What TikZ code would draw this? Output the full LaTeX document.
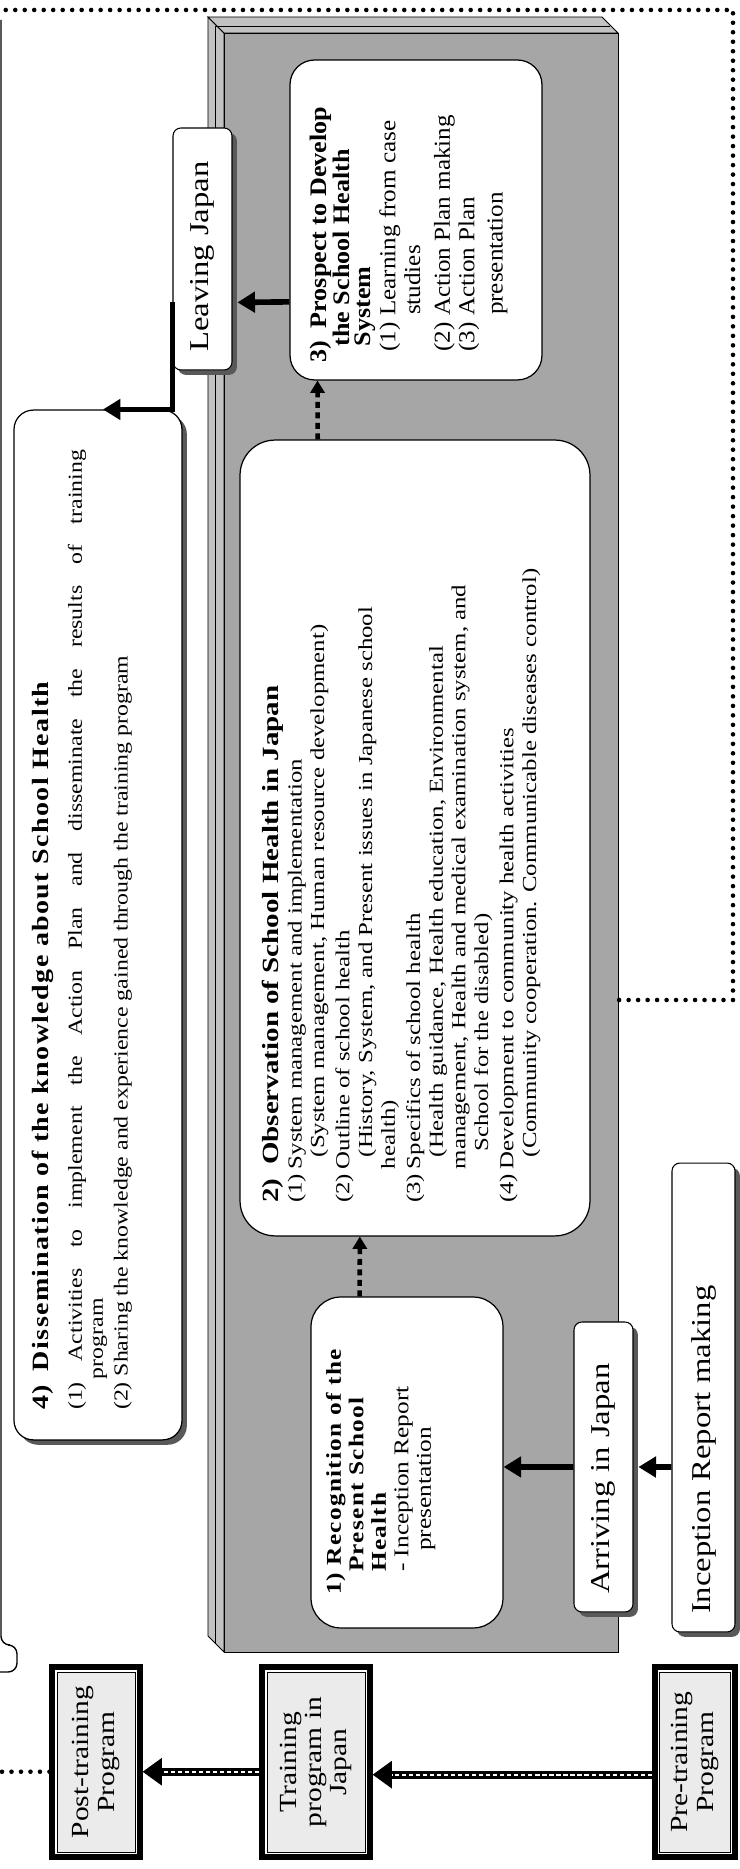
\documentclass[tikz,border=0pt]{standalone}
\usepackage{fontspec}
\setmainfont{Liberation Serif}
\newfontfamily\widefont{Liberation Serif}[FakeStretch=1.2]
\newfontfamily\widespaced{Liberation Serif}[FakeStretch=1.2,LetterSpace=6]
\newfontfamily\timesfont{Liberation Serif}[FakeStretch=1.1]
\newfontfamily\timeswide{Liberation Serif}[FakeStretch=1.25]
\usetikzlibrary{arrows.meta,calc,shadows}

\begin{document}
\begin{tikzpicture}

			\tikzstyle{prog}=[fill=black!8,draw=black,line width=0.5pt,
				preaction={draw=black,line width=8.6pt},
				preaction={draw=white,line width=1.8pt},
				outer sep=4.3pt,inner sep=0pt,minimum width=3.6cm,
				align=center,font=\widefont\fontsize{14}{14.5}\selectfont]
			\tikzstyle{place}=[fill=white,draw=black,line width=0.6pt,
				rounded corners=4.5pt,
				drop shadow={shadow xshift=2.8pt,shadow yshift=-2.8pt,fill=black!65,opacity=1},
				inner xsep=0.36cm,align=left,
				font=\widefont\fontsize{15.5}{17}\selectfont]
			\tikzstyle{stage}=[fill=white,draw=black,line width=0.7pt]
			\tikzstyle{slabface}=[fill=black!35,draw=black,line width=0.5pt]
			\tikzstyle{bevel}=[fill=black!24,draw=black,line width=0.5pt]
			\tikzstyle{stripe}=[line width=4.6pt,-{Triangle[length=11pt,width=15pt]},
				postaction={draw=white,-,line width=1.3pt,
				dash pattern=on 2.4pt off 1.6pt,shorten >=11pt}]
			\tikzstyle{solidarrow}=[line width=3.2pt,-{Triangle[length=10pt,width=11.5pt]}]
			\tikzstyle{dasharrow}=[line width=2.6pt,dash pattern=on 3.4pt off 2.6pt,
				-{Triangle[length=7pt,width=8pt]}]
			\tikzstyle{dotframe}=[line width=2.6pt,line cap=round,dash pattern=on 0pt off 5.4pt]

			\begin{scope}[rotate=90,transform shape,x=0.02cm,y=0.02cm]
			\path[use as bounding box] (0,0) rectangle (1869,740);

			\draw[slabface] (217,122) rectangle (1836,516);
			\draw[bevel] (217,516) -- (233,532) -- (1852,532) -- (1836,516) -- cycle;
			\draw[bevel] (1836,516) -- (1852,532) -- (1852,138) -- (1836,122) -- cycle;
			\draw[line width=0.4pt] (226,525) -- (1843,525) -- (1843,130);

			\node[prog,minimum height=1.56cm]	(post)	at (107,644)	{Post-training\\Program};
			\node[prog,minimum height=1.96cm]	(train)	at (107,424)	{Training\\program in\\Japan};
			\node[prog,minimum height=1.42cm]	(pre)	at (107,45)	{Pre-training\\Program};

			\node[place,text width=4.12cm,minimum height=1.18cm]	(leave)	at (1620,537.5)	{Leaving Japan};
			\node[place,text width=5.08cm,minimum height=1.18cm]	(arrive)	at (402,136.5)	{Arriving in Japan};
			\node[place,text width=8.66cm,minimum height=1.26cm]	(incep)	at (471.5,36.5)	{Inception Report making};

			\node[stage,rounded corners=17pt,inner xsep=0.66cm,inner ysep=0.3cm]	(rec)	at (406.5,333)
				{\parbox[t][3.24cm][t]{5.3cm}{\raggedright\fontsize{12}{12.8}\selectfont
				\widespaced\bfseries 1) Recognition of the\\
				\hspace*{1.1em}Present School\\
				\hspace*{1.1em}Health\\
				\widefont\mdseries\hspace*{1.1em}- Inception Report\\
				\hspace*{2.1em}presentation}};

			\node[stage,rounded corners=20pt,inner xsep=0.66cm,inner ysep=0.45cm]	(obs)	at (1031,325)
				{\parbox[t][6.1cm][t]{14.6cm}{\raggedright\timeswide\fontsize{11.3}{12.9}\selectfont
				{\bfseries\fontsize{13.2}{14}\selectfont 2)\hspace{0.6em}Observation of School Health in Japan}\\
				\makebox[1.7em][l]{(1)}System management and implementation\\
				\hspace*{2.3em}(System management, Human resource development)\\[1.5pt]
				\makebox[1.7em][l]{(2)}Outline of school health\\
				\hspace*{2.3em}(History, System, and Present issues in Japanese school\\
				\hspace*{1.7em}health)\\[1.5pt]
				\makebox[1.7em][l]{(3)}Specifics of school health\\
				\hspace*{2.3em}(Health guidance, Health education, Environmental\\
				\hspace*{1.7em}management, Health and medical examination system, and\\
				\hspace*{2.6em}School for the disabled)\\[1.5pt]
				\makebox[1.7em][l]{(4)}Development to community health activities\\
				\hspace*{2.3em}(Community cooperation. Communicable diseases control)}};

			\node[stage,rounded corners=14pt,inner xsep=0.34cm,inner ysep=0.4cm]	(pros)	at (1649,324)
				{\parbox[t][4.24cm][t]{5.72cm}{\raggedright\timesfont
				{\bfseries\fontsize{13.5}{12}\selectfont 3)\hspace{0.55em}Prospect to Develop\\
				\hspace*{0.7em}the School Health\\
				\hspace*{0.7em}System\par}
				{\fontsize{13}{14}\selectfont
				\hspace*{0.5em}(1) Learning from case\\
				\hspace*{2.1em}studies\\[3pt]
				\hspace*{0.5em}(2) Action Plan making\\
				\hspace*{0.5em}(3) Action Plan\\[2pt]
				\hspace*{2.1em}presentation\par}}};

			\node[stage,rounded corners=11pt,inner sep=0pt,
				drop shadow={shadow xshift=2.8pt,shadow yshift=-2.8pt,fill=black!65,opacity=1}]	(diss)	at (944,642)
				{\parbox[t][3.36cm][t]{20.6cm}{\leftskip=0.6cm\rightskip=0.8cm\vspace{0.36cm}%
				{\widespaced\bfseries\fontsize{13.3}{15}\selectfont 4)\hspace{0.6em}Dissemination of the knowledge about School Health\par}
				\vspace{7pt}
				{\widefont\fontsize{11.3}{12}\selectfont
				\hangindent=1.55em\hangafter=1 (1)~Activities to implement the Action Plan and disseminate the results of training\linebreak program\par
				\vspace{2pt}
				\hangindent=1.55em\hangafter=1 (2)~Sharing the knowledge and experience gained through the training program\par}}};

			\draw[stripe] ($(pre.north)!0.13!(pre.north west)$) -- ($(train.south)!0.13!(train.south west)$);
			\draw[stripe] ($(train.north)!0.1!(train.north west)$) -- ($(post.south)!0.1!(post.south west)$);

			\draw[solidarrow,shorten >=2.8pt] ($(incep.north)!0.296!(incep.north west)$) -- (arrive.south);
			\draw[solidarrow] (arrive.north) -- ($(rec.south)!0.027!(rec.south west)$);
			\draw[dasharrow] ($(rec.east)!0.49!(rec.north east)$) -- ($(obs.west)!0.314!(obs.north west)$);
			\draw[dasharrow] ($(obs.east)!0.554!(obs.north east)$) -- ($(pros.west)!0.778!(pros.north west)$);
			\draw[solidarrow,shorten >=2.8pt] ($(pros.north)!0.51!(pros.north west)$) -- ($(leave.south)!0.44!(leave.south west)$);
			\draw[solidarrow,shorten >=2.8pt] ($(leave.north)!0.44!(leave.north west)$) -| (diss.east);

			\begin{scope}
			\clip (0,0) rectangle (1869,740);
			\draw[dotframe] ($(post.north)!0.1!(post.north west)$) -- ++(0,80) -- (1859,771) -- (1859,7) -- (869,7) -- (869,122);
			\draw[line width=0.8pt,rounded corners=5pt] (1849,739) -- (224,739) -- (224,723) -- (197,723) -- (197,760);
			\end{scope}
			\end{scope}

		\end{tikzpicture}
\end{document}
